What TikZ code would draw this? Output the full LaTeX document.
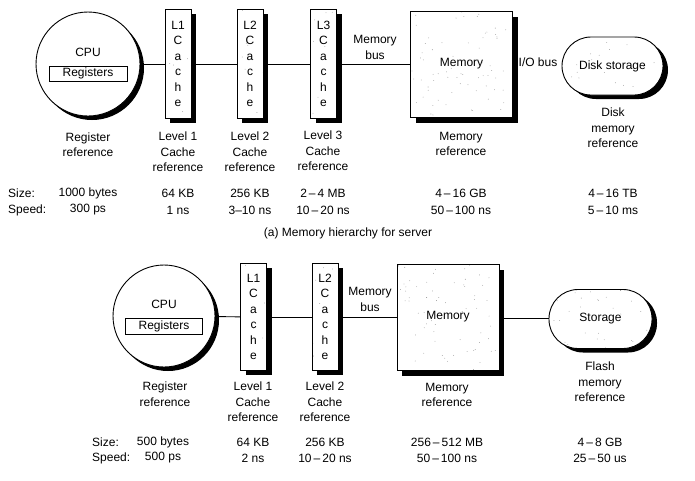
\documentclass[tikz,border=0pt]{standalone}
\usepackage{fontspec}
\setmainfont{Liberation Sans}
\usetikzlibrary{shadows,calc}
\begin{document}
\begin{tikzpicture}[x=1pt,y=-1pt,
  every node/.style={font=\fontsize{12}{15.5}\selectfont, inner sep=0pt, align=center},
  shad/.style 2 args={drop shadow={shadow xshift=#1, shadow yshift=#2, fill=black, opacity=1}},
  speckle/.style 2 args={path picture={
      \foreach \k in {1,...,#2}{
        \fill[black!45] ($(path picture bounding box.south west)+(rnd*#1,-rnd*#1)$) circle (0.4pt);
      }}},
  cpu/.style={circle, draw, line width=0.9pt, fill=white, minimum size=#1, shad={4pt}{-4pt}, speckle={#1}{70}},
  regbox/.style={draw, line width=0.7pt, fill=white, minimum width=78pt, minimum height=15pt},
  cache/.style={draw, line width=0.8pt, fill=white, minimum width=26pt, minimum height=#1, shad={5pt}{-4pt}, speckle={110}{25}},
  mem/.style={draw, line width=0.8pt, fill=white, minimum width=102pt, minimum height=106pt, shad={5pt}{-6pt}, speckle={106}{70}},
  disk/.style={draw, line width=0.9pt, fill=white, minimum width=101pt, minimum height=58pt, rounded corners=29pt, shad={5pt}{-4pt}, speckle={104}{50}},
  conn/.style={line width=0.9pt},
  lbl/.style={}
]
\pgfmathsetseed{42}
\useasboundingbox[fill=white] (0,0) rectangle (695,480);

% ---------------- (a) server ----------------
\node[cpu=104pt] (cpu1) at (88,64) {};
\node (cpulbl1) at (88,52) {CPU};
\node[regbox] (reg1) at (88,73.5) {Registers};

\node[cache=109pt] (L1a) at (178,64) {L1\\C\\a\\c\\h\\e};
\node[cache=109pt] (L2a) at (250,64) {L2\\C\\a\\c\\h\\e};
\node[cache=109pt] (L3a) at (323.5,64) {L3\\C\\a\\c\\h\\e};
\node[mem] (mema) at (461.5,64) {Memory};
\node[disk] (diska) at (612.5,66) {Disk storage};

\draw[conn] (cpu1) -- (L1a);
\draw[conn] (L1a) -- (L2a);
\draw[conn] (L2a) -- (L3a);
\draw[conn] (L3a) -- (mema);
\node (mbusa) at (375,47.5) {Memory\\bus};
\node (iobus) at (538,62) {I/O bus};

\node (r1) at (88,144.5) {Register\\reference};
\node (r2) at (178,152) {Level 1\\Cache\\reference};
\node (r3) at (250,152) {Level 2\\Cache\\reference};
\node (r4) at (323,151) {Level 3\\Cache\\reference};
\node (r5) at (461,144) {Memory\\reference};
\node (r6) at (613,128) {Disk\\memory\\reference};

\node[anchor=west] (sza) at (8,193) {Size:};
\node[anchor=west] (spa) at (8,210) {Speed:};
\node (s1) at (88,193) {1000 bytes};
\node (p1) at (88,210) {300 ps};
\node (s2) at (178,193) {64 KB};
\node (p2) at (178,210) {1 ns};
\node (s3) at (250,193) {256 KB};
\node (p3) at (250,210) {3–10 ns};
\node (s4) at (323,193) {2\,–\,4 MB};
\node (p4) at (323,210) {10\,–\,20 ns};
\node (s5) at (461,193) {4\,–\,16 GB};
\node (p5) at (461,210) {50\,–\,100 ns};
\node (s6) at (613,193) {4\,–\,16 TB};
\node (p6) at (613,210) {5\,–\,10 ms};

\node (capa) at (348,233) {(a) Memory hierarchy for server};

% ---------------- (b) ----------------
\node[cpu=102pt] (cpu2) at (164,316) {};
\node (cpulbl2) at (164,304) {CPU};
\node[regbox, minimum width=77pt, minimum height=16pt] (reg2) at (164,326) {Registers};

\node[cache=107pt] (L1b) at (253.5,317) {L1\\C\\a\\c\\h\\e};
\node[cache=107pt] (L2b) at (325,317) {L2\\C\\a\\c\\h\\e};
\node[mem] (memb) at (448,317) {Memory};
\node[disk, minimum width=103pt, minimum height=59pt] (stor) at (600.5,319) {Storage};

\draw[conn] (cpu2) -- (L1b);
\draw[conn] (L1b) -- (L2b);
\draw[conn] (L2b) -- (memb);
\draw[conn] (memb.east |- 0,318) -- (stor.west |- 0,318);
\node (mbusb) at (370,299.5) {Memory\\bus};

\node (q1) at (165,394) {Register\\reference};
\node (q2) at (253,402) {Level 1\\Cache\\reference};
\node (q3) at (325,402) {Level 2\\Cache\\reference};
\node (q4) at (447,395) {Memory\\reference};
\node (q5) at (600,382) {Flash\\memory\\reference};

\node[anchor=west] (szb) at (92,442) {Size:};
\node[anchor=west] (spb) at (92,458) {Speed:};
\node (t1) at (163,442) {500 bytes};
\node (u1) at (163,458) {500 ps};
\node (t2) at (253,442) {64 KB};
\node (u2) at (253,458) {2 ns};
\node (t3) at (325,442) {256 KB};
\node (u3) at (325,458) {10\,–\,20 ns};
\node (t4) at (447,442) {256\,–\,512 MB};
\node (u4) at (447,458) {50\,–\,100 ns};
\node (t5) at (600,442) {4\,–\,8 GB};
\node (u5) at (600,458) {25\,–\,50 us};
\end{tikzpicture}
\end{document}
